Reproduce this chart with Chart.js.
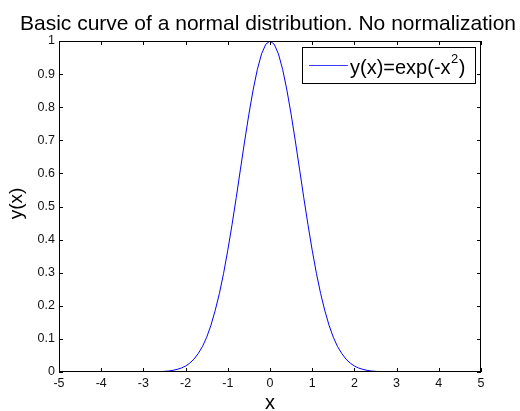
<!DOCTYPE html>
<html>
<head>
<meta charset="utf-8">
<script src="https://cdn.jsdelivr.net/npm/chart.js@4"></script>
<style>
html,body{margin:0;padding:0;background:#fff;}
#wrap{width:520px;height:411px;position:relative;}
</style>
</head>
<body>
<div id="wrap"><canvas id="c" width="520" height="411"></canvas></div>
<script>
const chartTitle = "Basic curve of a normal distribution. No normalization";
const xAxisLabel = "x";
const yAxisLabel = "y(x)";
const legendMain = "y(x)=exp(-x";
const legendSup = "2";
const legendTail = ")";
const xTicks = [-5,-4,-3,-2,-1,0,1,2,3,4,5];
const yTicks = [0,0.1,0.2,0.3,0.4,0.5,0.6,0.7,0.8,0.9,1];
const xValues = [-5,-4,-3,-2.9,-2.8,-2.7,-2.6,-2.5,-2.4,-2.3,-2.2,-2.1,-2,-1.9,-1.8,-1.7,-1.6,-1.5,-1.4,-1.3,-1.2,-1.1,-1,-0.9,-0.8,-0.7,-0.6,-0.5,-0.4,-0.3,-0.2,-0.1,0,0.1,0.2,0.3,0.4,0.5,0.6,0.7,0.8,0.9,1,1.1,1.2,1.3,1.4,1.5,1.6,1.7,1.8,1.9,2,2.1,2.2,2.3,2.4,2.5,2.6,2.7,2.8,2.9,3,4,5];
const yValues = [0,0,0.0001,0.0002,0.0004,0.0007,0.001,0.002,0.003,0.005,0.008,0.012,0.018,0.027,0.039,0.056,0.077,0.105,0.141,0.185,0.237,0.298,0.368,0.445,0.527,0.613,0.698,0.779,0.852,0.914,0.961,0.990,1,0.990,0.961,0.914,0.852,0.779,0.698,0.613,0.527,0.445,0.368,0.298,0.237,0.185,0.141,0.105,0.077,0.056,0.039,0.027,0.018,0.012,0.008,0.005,0.003,0.002,0.001,0.0007,0.0004,0.0002,0.0001,0,0];

const FONT = "'Liberation Sans', Arial, sans-serif";

const decor = {
  id: 'decor',
  afterDraw(chart) {
    const ctx = chart.ctx;
    const a = chart.chartArea;
    const xs = chart.scales.x, ys = chart.scales.y;
    ctx.save();
    // box
    ctx.strokeStyle = '#000';
    ctx.lineWidth = 1;
    ctx.strokeRect(Math.round(a.left)+0.5, Math.round(a.top)+0.5, Math.round(a.right-a.left)-1, Math.round(a.bottom-a.top)-1);
    // inward ticks
    const tl = 4;
    ctx.beginPath();
    xTicks.forEach(v => {
      const px = Math.round(xs.getPixelForValue(v)) + 0.5;
      ctx.moveTo(px, a.bottom); ctx.lineTo(px, a.bottom - tl);
      ctx.moveTo(px, a.top); ctx.lineTo(px, a.top + tl);
    });
    yTicks.forEach(v => {
      const py = Math.round(ys.getPixelForValue(v)) + 0.5;
      ctx.moveTo(a.left, py); ctx.lineTo(a.left + tl, py);
      ctx.moveTo(a.right, py); ctx.lineTo(a.right - tl, py);
    });
    ctx.stroke();
    // title
    ctx.fillStyle = '#000';
    ctx.font = "21px " + FONT;
    ctx.textAlign = 'center';
    ctx.textBaseline = 'alphabetic';
    ctx.fillText(chartTitle, 268, 29.5);
    // x label
    ctx.font = "20px " + FONT;
    ctx.fillText(xAxisLabel, (a.left + a.right) / 2, 409);
    // y label
    ctx.save();
    ctx.translate(17, (a.top + a.bottom) / 2 - 3);
    ctx.rotate(-Math.PI / 2);
    ctx.font = "19px " + FONT;
    ctx.textBaseline = 'middle';
    ctx.fillText(yAxisLabel, 0, 0);
    ctx.restore();
    // legend
    const lx = 302.5, ly = 47.5, lw = 173, lh = 36;
    ctx.fillStyle = '#fff';
    ctx.fillRect(lx, ly, lw, lh);
    ctx.strokeStyle = '#000';
    ctx.strokeRect(lx, ly, lw, lh);
    ctx.strokeStyle = '#3a3aff';
    ctx.lineWidth = 1.2;
    ctx.beginPath();
    ctx.moveTo(309, 65.5); ctx.lineTo(348, 65.5);
    ctx.stroke();
    ctx.fillStyle = '#000';
    ctx.textAlign = 'left';
    ctx.textBaseline = 'alphabetic';
    ctx.font = "20px " + FONT;
    let tx = 350;
    const by = 74;
    ctx.fillText(legendMain, tx, by);
    tx += ctx.measureText(legendMain).width;
    ctx.font = "13px " + FONT;
    ctx.fillText(legendSup, tx + 0.5, by - 11);
    tx += ctx.measureText(legendSup).width + 1;
    ctx.font = "20px " + FONT;
    ctx.fillText(legendTail, tx, by);
    ctx.restore();
  }
};

new Chart(document.getElementById('c'), {
  type: 'scatter',
  data: {
    datasets: [{
      label: legendMain + legendSup + legendTail,
      data: xValues.map((x, i) => ({x: x, y: yValues[i]})),
      showLine: true,
      borderColor: '#0000ff',
      borderWidth: 1,
      pointRadius: 0,
      tension: 0,
      fill: false
    }]
  },
  options: {
    responsive: false,
    animation: false,
    devicePixelRatio: 1,
    layout: { padding: { top: 41, right: 39, left: 0, bottom: 0 } },
    plugins: { legend: { display: false }, title: { display: false }, tooltip: { enabled: false } },
    scales: {
      x: {
        type: 'linear', min: -5, max: 5,
        afterFit(s) { s.height = 39; },
        afterBuildTicks(s) { s.ticks = xTicks.map(v => ({value: v})); },
        ticks: { color: '#111', padding: 4, font: { family: FONT, size: 12.5 }, maxRotation: 0, autoSkip: false },
        grid: { display: false, drawTicks: false },
        border: { display: false }
      },
      y: {
        type: 'linear', min: 0, max: 1,
        afterFit(s) { s.width = 59; },
        afterBuildTicks(s) { s.ticks = yTicks.map(v => ({value: v})); },
        ticks: { color: '#111', padding: 4, font: { family: FONT, size: 12.5 }, autoSkip: false,
          callback: v => String(Math.round(v * 10) / 10) },
        grid: { display: false, drawTicks: false },
        border: { display: false }
      }
    }
  },
  plugins: [decor]
});
</script>
</body>
</html>
